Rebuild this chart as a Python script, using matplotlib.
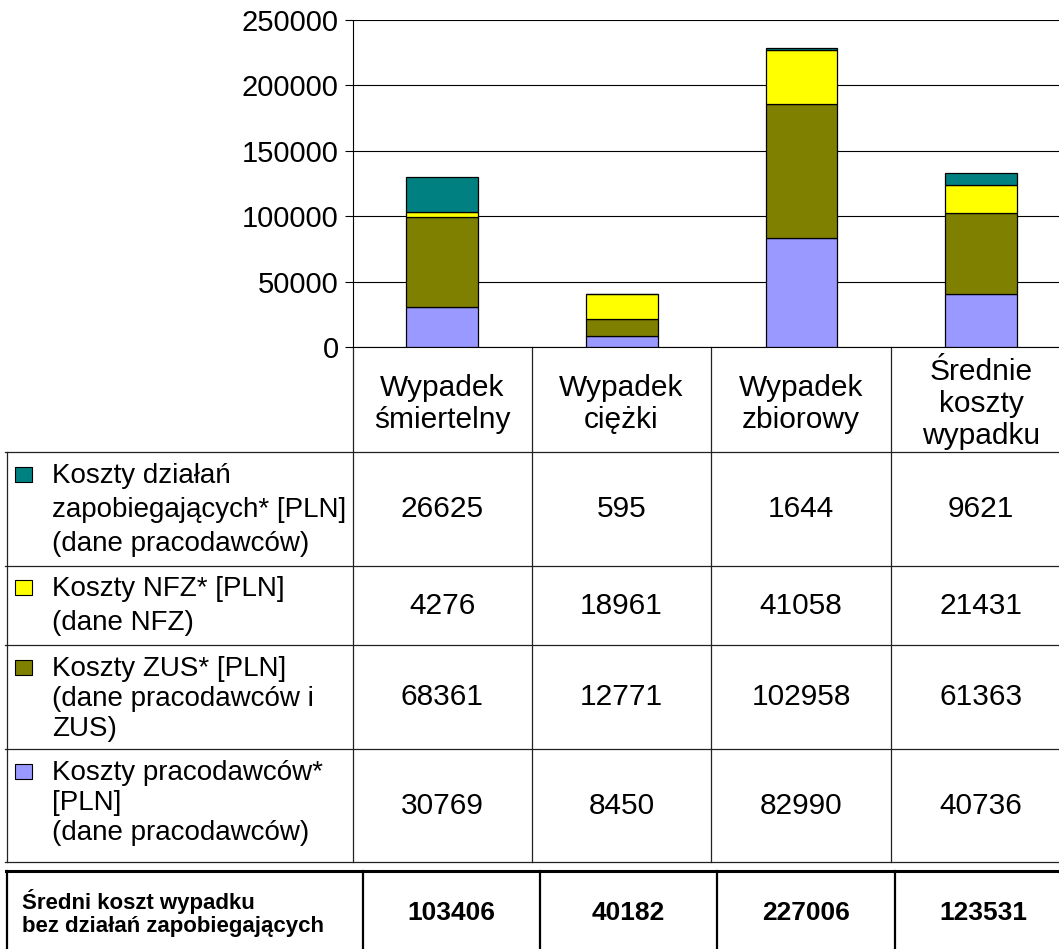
import numpy as np
import matplotlib
matplotlib.use('Agg')
import matplotlib.pyplot as plt
import matplotlib.patches as patches

plt.rcParams['font.family'] = ['Liberation Sans', 'DejaVu Sans']

# dane
categories = ['Wypadek\nśmiertelny', 'Wypadek\nciężki', 'Wypadek\nzbiorowy', 'Średnie\nkoszty\nwypadku']
series_labels = ['Koszty działań\nzapobiegających* [PLN]\n(dane pracodawców)',
                 'Koszty NFZ* [PLN]\n(dane NFZ)',
                 'Koszty ZUS* [PLN]\n(dane pracodawców i\nZUS)',
                 'Koszty pracodawców*\n[PLN]\n(dane pracodawców)']
koszty_zapobieg = [26625, 595, 1644, 9621]
koszty_nfz = [4276, 18961, 41058, 21431]
koszty_zus = [68361, 12771, 102958, 61363]
koszty_pracod = [30769, 8450, 82990, 40736]
sredni_koszt = [103406, 40182, 227006, 123531]
sredni_label = 'Średni koszt wypadku\nbez działań zapobiegających'
yticks = [0, 50000, 100000, 150000, 200000, 250000]

colors = ['#008080', '#FFFF00', '#808000', '#9999FF']  # góra -> dół, jak w tabeli
series = [koszty_zapobieg, koszty_nfz, koszty_zus, koszty_pracod]

W, H = 1059, 949
fig = plt.figure(figsize=(W / 100, H / 100), dpi=100)

# --- wykres słupkowy (współrzędne w pikselach)
x0, x1, ytop, ybot = 352.5, 1071, 20, 347
ax = fig.add_axes([x0 / W, (H - ybot) / H, (x1 - x0) / W, (ybot - ytop) / H])
x = np.arange(len(categories))
bottom = np.zeros(len(categories))
for vals, col in zip(series[::-1], colors[::-1]):
    ax.bar(x, vals, width=0.4, bottom=bottom, color=col, edgecolor='black', lw=0.9, zorder=3)
    bottom += np.array(vals)
ax.set_xlim(-0.5, 3.5)
ax.set_ylim(0, 250000)
ax.set_yticks(yticks)
ax.set_yticklabels([str(t) for t in yticks], fontsize=21)
ax.set_xticks([])
ax.tick_params(axis='y', direction='out', length=6, width=0.8, pad=4)
ax.yaxis.grid(True, color='black', lw=0.8, zorder=0)
ax.set_axisbelow(True)
for s in ['top', 'right']:
    ax.spines[s].set_visible(False)
ax.spines['left'].set_linewidth(0.8)
ax.spines['bottom'].set_linewidth(0.8)
ax.patch.set_alpha(0)

# --- tabela
tb = fig.add_axes([0, 0, 1, 1], zorder=-1)
tb.set_xlim(0, W); tb.set_ylim(H, 0); tb.axis('off')

col_x = [352.5, 532, 711, 891, 1071]
col_c = [(a + b) / 2 for a, b in zip(col_x[:-1], col_x[1:])]
row_y = [452, 566, 645, 749, 862]
row_c = [(a + b) / 2 for a, b in zip(row_y[:-1], row_y[1:])]
lc = '#222222'

for yy in row_y:
    tb.plot([5, W], [yy, yy], color=lc, lw=0.9)
tb.plot([7, 7], [452, 862], color=lc, lw=0.9)
for xx in col_x[:-1]:
    tb.plot([xx, xx], [347, 862], color=lc, lw=0.9)

for c, lab in zip(col_c, categories):
    tb.text(c, 404, lab, ha='center', va='center', fontsize=21.5, linespacing=1.2)

label_top = [465, 578, 658, 762]
label_ls = [1.4, 1.4, 1.2, 1.2]
for i, (lab, col, vals) in enumerate(zip(series_labels, colors, series)):
    tb.add_patch(patches.Rectangle((15, label_top[i] + 2), 17, 15, facecolor=col,
                                   edgecolor='black', lw=0.8))
    tb.text(52, label_top[i] - 2, lab, ha='left', va='top', fontsize=20, linespacing=label_ls[i])
    for c, v in zip(col_c, vals):
        tb.text(c, row_c[i], str(v), ha='center', va='center', fontsize=21.5)

# --- wiersz podsumowania
bx = [7, 362.5, 540, 717, 895, 1071]
bc = [(a + b) / 2 for a, b in zip(bx[1:-1], bx[2:])]
tb.plot([6, W], [871, 871], color='black', lw=2.2)
for xx in bx[:-1]:
    tb.plot([xx, xx], [871, H], color='black', lw=1.6)
tb.text(22, 913, sredni_label, ha='left', va='center', fontsize=16, fontweight='bold',
        linespacing=1.15)
for c, v in zip(bc, sredni_koszt):
    tb.text(c, 913, str(v), ha='center', va='center', fontsize=19, fontweight='bold')

fig.savefig('out.png', dpi=100)
